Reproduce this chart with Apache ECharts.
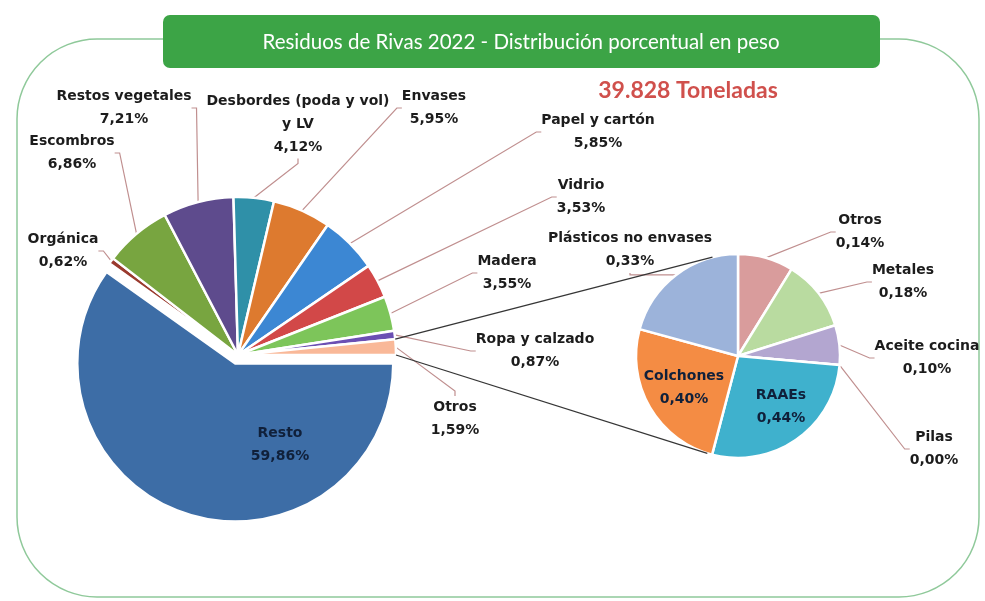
<!DOCTYPE html>
<html>
<head>
<meta charset="utf-8">
<script src="https://cdn.jsdelivr.net/npm/echarts@6/dist/echarts.min.js"></script>
<style>
  html, body { margin: 0; padding: 0; background: #ffffff; }
  #chart { width: 985px; height: 601px; }
</style>
</head>
<body>
<div id="chart"></div>
<script>
// ---- Data: share of total waste weight (%) ----
const mainNames = ['Resto', 'Orgánica', 'Escombros', 'Restos vegetales', 'Desbordes (poda y vol)\ny LV',
  'Envases', 'Papel y cartón', 'Vidrio', 'Madera', 'Ropa y calzado', 'Otros'];
const mainValues = [59.86, 0.62, 6.86, 7.21, 4.12, 5.95, 5.85, 3.53, 3.55, 0.87, 1.59];

// Breakdown of the "Otros" slice
const otherNames = ['Otros', 'Metales', 'Aceite cocina', 'Pilas', 'RAAEs', 'Colchones', 'Plásticos no envases'];
const otherValues = [0.14, 0.18, 0.10, 0.00, 0.44, 0.40, 0.33];

const chartTitle = 'Residuos de Rivas 2022 - Distribución porcentual en peso';
const totalLabel = '39.828 Toneladas';

// ---- Styling / layout ----
const mainColors = ['#3d6da6', '#9a3a2e', '#78a540', '#5e4b8d', '#2f90a8', '#dd7a2f',
  '#3c87d3', '#d24848', '#7dc55a', '#6b4fb3', '#f9b898'];
const otherColors = ['#d99c9c', '#b9dba0', '#b3a6d0', '#8064a2', '#3fb1cd', '#f48c44', '#9cb3da'];

const mainLabelXY = [[280, 445], [63, 251], [72, 153], [124, 108], [298, 124], [434, 108],
  [598, 132], [581, 197], [507, 273], [535, 351], [455, 419]];
const otherLabelXY = [[860, 232], [903, 282], [927, 358], [934, 449], [781, 407], [684, 388], [630, 250]];

const MAIN_CENTER = [238, 355];
const MAIN_RADIUS = 158;
const SUB_CENTER = [738, 356];
const SUB_RADIUS = 102;
const EXPLODE = 9;                 // offset of the detached "Resto" slice
const explodedIndex = 0;
const aggregateIndex = mainNames.length - 1;   // slice expanded into the second pie
const otherInside = ['RAAEs', 'Colchones'];

const FONT = '"DejaVu Sans"';
const pct = v => v.toFixed(2).replace('.', ',') + '%';

const baseLabel = {
  show: true,
  position: 'outside',
  formatter: p => p.name + '\n' + pct(p.value),
  color: '#1c1c1c',
  fontFamily: FONT,
  fontWeight: 'bold',
  fontSize: 14,
  lineHeight: 23,
  align: 'center'
};
const leader = { show: true, length: 10, length2: 5, smooth: false,
  lineStyle: { color: '#c08f8f', width: 1.2 } };
const hidden = { itemStyle: { color: 'rgba(0,0,0,0)', borderWidth: 0 },
  label: { show: false }, labelLine: { show: false } };

// Exploded slice direction, from the slice's own share of the circle
const mainTotal = mainValues.reduce((a, b) => a + b, 0);
const before = mainValues.slice(0, explodedIndex).reduce((a, b) => a + b, 0);
const midAngle = (before + mainValues[explodedIndex] / 2) / mainTotal * 2 * Math.PI;
const explodedCenter = [MAIN_CENTER[0] + EXPLODE * Math.cos(midAngle),
  MAIN_CENTER[1] + EXPLODE * Math.sin(midAngle)];

const mainData = mainNames.map((n, i) => i === explodedIndex
  ? Object.assign({ name: n, value: mainValues[i] }, hidden)
  : { name: n, value: mainValues[i], itemStyle: { color: mainColors[i] } });

const explodedData = mainNames.map((n, i) => i === explodedIndex
  ? { name: n, value: mainValues[i], itemStyle: { color: mainColors[i] },
      label: { position: 'inside', color: '#10203a' }, labelLine: { show: false } }
  : Object.assign({ name: n, value: mainValues[i] }, hidden));

const otherData = otherNames.map((n, i) => {
  const item = { name: n, value: otherValues[i], itemStyle: { color: otherColors[i] } };
  if (otherInside.indexOf(n) >= 0) {
    item.label = { position: 'inside', color: '#10203a' };
    item.labelLine = { show: false };
  }
  return item;
});

const placeAt = table => p => {
  const xy = table[p.dataIndex];
  return { x: xy[0], y: xy[1], align: 'center', verticalAlign: 'middle' };
};

const chart = echarts.init(document.getElementById('chart'), null, { renderer: 'canvas' });

chart.setOption({
  animation: false,
  backgroundColor: '#ffffff',
  graphic: [
    { id: 'frame', type: 'rect', z: 0,
      shape: { x: 17, y: 39, width: 962, height: 558, r: 80 },
      style: { fill: 'none', stroke: '#8fc99a', lineWidth: 1.5 } },
    { id: 'titleBox', type: 'rect', z: 1,
      shape: { x: 163, y: 15, width: 717, height: 53, r: 7 },
      style: { fill: '#3ca446' } },
    { id: 'titleText', type: 'text', z: 2, x: 521, y: 42,
      style: { text: chartTitle, fill: '#ffffff', font: '20.5px Lato',
        align: 'center', verticalAlign: 'middle' } },
    { id: 'total', type: 'text', z: 2, x: 688, y: 91,
      style: { text: totalLabel, fill: '#d0504c', font: 'bold 23px Lato',
        align: 'center', verticalAlign: 'middle' } }
  ],
  series: [
    {
      type: 'pie',
      center: MAIN_CENTER,
      radius: MAIN_RADIUS,
      startAngle: 0,
      clockwise: true,
      avoidLabelOverlap: false,
      itemStyle: { borderColor: '#ffffff', borderWidth: 2.5 },
      label: baseLabel,
      labelLine: leader,
      emphasis: { disabled: true },
      labelLayout: placeAt(mainLabelXY),
      data: mainData
    },
    {
      type: 'pie',
      center: SUB_CENTER,
      radius: SUB_RADIUS,
      startAngle: 90,
      clockwise: true,
      avoidLabelOverlap: false,
      itemStyle: { borderColor: '#ffffff', borderWidth: 2.5 },
      label: baseLabel,
      labelLine: leader,
      emphasis: { disabled: true },
      labelLayout: placeAt(otherLabelXY),
      data: otherData
    },
    {
      // detached "Resto" slice
      type: 'pie',
      center: explodedCenter,
      radius: MAIN_RADIUS,
      startAngle: 0,
      clockwise: true,
      avoidLabelOverlap: false,
      itemStyle: { borderColor: '#ffffff', borderWidth: 2.5 },
      label: baseLabel,
      labelLine: leader,
      emphasis: { disabled: true },
      labelLayout: placeAt(mainLabelXY),
      data: explodedData
    }
  ]
});

// Connector lines from the aggregated slice to the tangents of the second pie
(function drawConnectors() {
  const model = chart.getModel();
  const agg = model.getSeriesByIndex(0).getData().getItemLayout(aggregateIndex);
  const sub = model.getSeriesByIndex(1).getData().getItemLayout(0);
  const pStart = [agg.cx + agg.r * Math.cos(agg.startAngle), agg.cy + agg.r * Math.sin(agg.startAngle)];
  const pEnd = [agg.cx + agg.r * Math.cos(agg.endAngle), agg.cy + agg.r * Math.sin(agg.endAngle)];
  const upperP = pStart[1] < pEnd[1] ? pStart : pEnd;
  const lowerP = pStart[1] < pEnd[1] ? pEnd : pStart;

  function tangent(p, upper) {
    const dx = p[0] - sub.cx, dy = p[1] - sub.cy;
    const d = Math.sqrt(dx * dx + dy * dy);
    const phi = Math.atan2(dy, dx);
    const a = Math.acos(sub.r / d);
    const t1 = [sub.cx + sub.r * Math.cos(phi + a), sub.cy + sub.r * Math.sin(phi + a)];
    const t2 = [sub.cx + sub.r * Math.cos(phi - a), sub.cy + sub.r * Math.sin(phi - a)];
    return upper ? (t1[1] < t2[1] ? t1 : t2) : (t1[1] < t2[1] ? t2 : t1);
  }
  const up = tangent(upperP, true);
  const lo = tangent(lowerP, false);
  chart.setOption({
    graphic: [
      { id: 'connUp', type: 'line', z: 3,
        shape: { x1: upperP[0], y1: upperP[1], x2: up[0], y2: up[1] },
        style: { stroke: '#363636', lineWidth: 1.3 } },
      { id: 'connLo', type: 'line', z: 3,
        shape: { x1: lowerP[0], y1: lowerP[1], x2: lo[0], y2: lo[1] },
        style: { stroke: '#363636', lineWidth: 1.3 } }
    ]
  });
})();
</script>
</body>
</html>
